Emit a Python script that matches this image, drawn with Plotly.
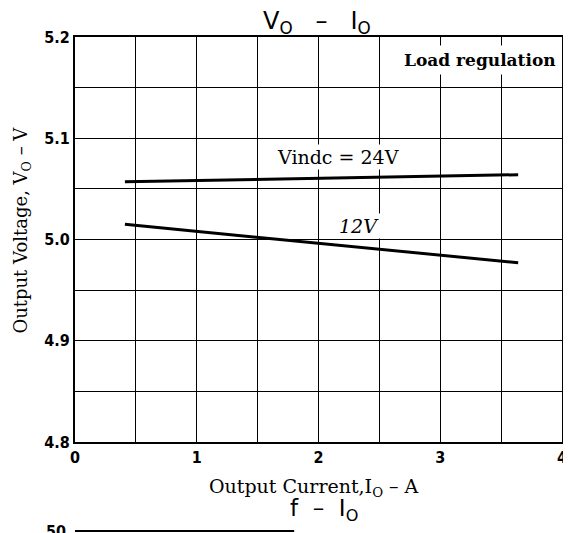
import plotly.graph_objects as go

# Data
current_24v = [0.41, 3.64]
voltage_24v = [5.057, 5.064]
current_12v = [0.41, 3.64]
voltage_12v = [5.015, 4.977]
x_tick_vals = [0, 1, 2, 3, 4]
x_tick_text = ["0", "1", "2", "3", "4"]
y_tick_vals = [4.8, 4.9, 5.0, 5.1, 5.2]
y_tick_text = ["4.8", "4.9", "5.0", "5.1", "5.2"]

SERIF = "DejaVu Serif"
SANS = "DejaVu Sans"
TICKF = "DejaVu Sans Condensed"

fig = go.Figure()
fig.add_trace(go.Scatter(x=current_24v, y=voltage_24v, mode="lines",
                         line=dict(color="black", width=3), showlegend=False))
fig.add_trace(go.Scatter(x=current_12v, y=voltage_12v, mode="lines",
                         line=dict(color="black", width=3), showlegend=False))

# page has an 8px body margin, so the figure is 8px smaller than the window
fig.update_layout(
    width=563, height=525,
    margin=dict(l=67, r=4, t=29, b=91),
    paper_bgcolor="white", plot_bgcolor="white",
    showlegend=False,
)
fig.update_xaxes(
    range=[0, 4], tickvals=x_tick_vals, ticktext=x_tick_text,
    showgrid=True, gridcolor="black", gridwidth=1,
    minor=dict(dtick=0.5, showgrid=True, gridcolor="black", gridwidth=1),
    showline=True, linecolor="black", linewidth=2, mirror=True,
    zeroline=False, ticks="",
    tickfont=dict(family=TICKF, size=16, color="black", weight="bold"),
)
fig.update_yaxes(
    range=[4.8, 5.2], tickvals=y_tick_vals, ticktext=y_tick_text,
    showgrid=True, gridcolor="black", gridwidth=1,
    minor=dict(dtick=0.05, tick0=4.8, showgrid=True, gridcolor="black", gridwidth=1),
    showline=True, linecolor="black", linewidth=2, mirror=True,
    zeroline=False, ticks="", ticklabelstandoff=0,
    tickfont=dict(family=TICKF, size=16, color="black", weight="bold"),
)

# axis titles
fig.add_annotation(text="Output Current,I<sub>O</sub> – A", xref="paper", yref="paper",
                   x=0.49, y=-0.113, xanchor="center", yanchor="middle", showarrow=False,
                   font=dict(family=SERIF, size=19, color="black"))
fig.add_annotation(text="Output Voltage, V<sub>O</sub> – V", xref="paper", yref="paper",
                   x=-0.108, y=0.523, xanchor="center", yanchor="middle",
                   textangle=-90, showarrow=False,
                   font=dict(family=SERIF, size=18, color="black"))

fig.add_annotation(text="V<sub>O</sub>   –   I<sub>O</sub>", xref="paper", yref="paper",
                   x=0.497, y=1.035, xanchor="center", yanchor="middle", showarrow=False,
                   font=dict(family=SANS, size=24, color="black"))
fig.add_annotation(text="<b>Load regulation</b>", x=3.33, y=5.177, showarrow=False,
                   bgcolor="white", borderpad=4,
                   font=dict(family=SERIF, size=17, color="black"))
fig.add_annotation(text="Vindc = 24V", x=2.16, y=5.081, showarrow=False,
                   bgcolor="white", borderpad=1,
                   font=dict(family=SERIF, size=19, color="black"))
fig.add_annotation(text="<i>12V</i>", x=2.33, y=5.013, showarrow=False,
                   bgcolor="white", borderpad=1,
                   font=dict(family=SERIF, size=19, color="black"))
fig.add_annotation(text="f  –  I<sub>O</sub>", xref="paper", yref="paper",
                   x=0.512, y=-0.168, xanchor="center", yanchor="middle", showarrow=False,
                   font=dict(family=SANS, size=23, color="black"))
fig.add_annotation(text="<b>50</b>", xref="paper", yref="paper",
                   x=-0.015, y=-0.222, xanchor="right", yanchor="middle", showarrow=False,
                   font=dict(family=TICKF, size=16, color="black"))
fig.add_shape(type="line", xref="paper", yref="paper", x0=0, x1=0.45, y0=-0.22, y1=-0.22,
              line=dict(color="black", width=2))

fig.write_html("out.html")
